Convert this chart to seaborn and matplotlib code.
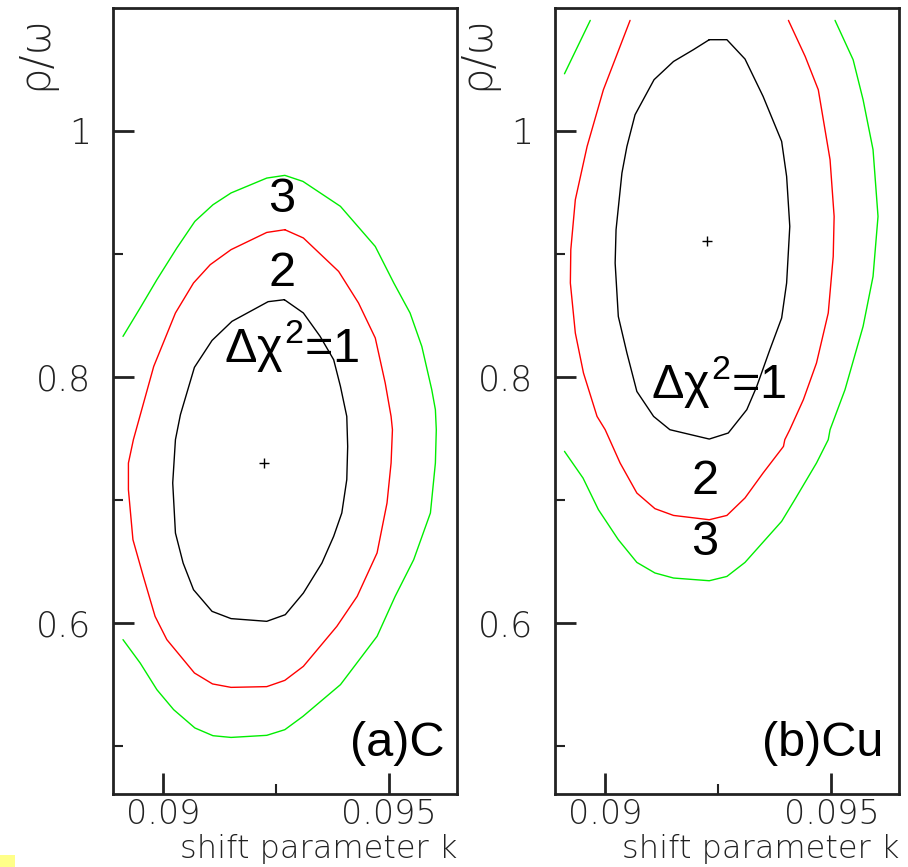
import matplotlib
matplotlib.use("Agg")
import matplotlib.pyplot as plt
import matplotlib.patches as mpatches
from matplotlib.ticker import FixedLocator
import seaborn as sns

# contour data: shift parameter k vs rho/omega

# (a) C
a_c1_k = [0.09268, 0.09232, 0.09152, 0.09108, 0.09069, 0.09038, 0.09027, 0.09021, 0.09027, 0.09044,
          0.09067, 0.09108, 0.09150, 0.09229, 0.09270, 0.09310, 0.09351, 0.09377, 0.09395, 0.09406,
          0.09408, 0.09406, 0.09392, 0.09377, 0.09347, 0.09310, 0.09268]
a_c1_r = [0.8626, 0.8610, 0.8450, 0.8295, 0.8076, 0.7691, 0.7488, 0.7136, 0.6729, 0.6485,
          0.6268, 0.6092, 0.6033, 0.6011, 0.6065, 0.6241, 0.6485, 0.6702, 0.6892, 0.7163,
          0.7433, 0.7677, 0.7921, 0.8138, 0.8328, 0.8518, 0.8626]
a_c2_k = [0.09269, 0.09229, 0.09150, 0.09104, 0.09067, 0.09027, 0.08979, 0.08934, 0.08923, 0.08923,
          0.08933, 0.08956, 0.08982, 0.09008, 0.09069, 0.09109, 0.09150, 0.09229, 0.09269, 0.09310,
          0.09384, 0.09429, 0.09473, 0.09495, 0.09504, 0.09507, 0.09504, 0.09491, 0.09469, 0.09432,
          0.09388, 0.09310, 0.09269]
a_c2_r = [0.9195, 0.9173, 0.9033, 0.8911, 0.8762, 0.8518, 0.8084, 0.7488, 0.7298, 0.7081,
          0.6675, 0.6376, 0.6051, 0.5862, 0.5591, 0.5502, 0.5474, 0.5480, 0.5531, 0.5645,
          0.5970, 0.6214, 0.6567, 0.6973, 0.7298, 0.7569, 0.7677, 0.7949, 0.8315, 0.8599,
          0.8856, 0.9128, 0.9195]
a_c3_k = [0.08911, 0.08949, 0.08986, 0.09030, 0.09070, 0.09110, 0.09150, 0.09229, 0.09269, 0.09309,
          0.09392, 0.09469, 0.09510, 0.09546, 0.09572, 0.09594, 0.09602, 0.09604, 0.09602, 0.09591,
          0.09554, 0.09513, 0.09473, 0.09392, 0.09309, 0.09269, 0.09229, 0.09150, 0.09110, 0.09070,
          0.09023, 0.08986, 0.08949, 0.08911]
a_c3_r = [0.8328, 0.8559, 0.8789, 0.9046, 0.9263, 0.9398, 0.9494, 0.9615, 0.9637, 0.9588,
          0.9385, 0.9059, 0.8762, 0.8518, 0.8246, 0.7894, 0.7732, 0.7569, 0.7298, 0.6892,
          0.6512, 0.6214, 0.5889, 0.5496, 0.5238, 0.5130, 0.5084, 0.5067, 0.5081, 0.5144,
          0.5293, 0.5455, 0.5672, 0.5862]
a_best = (0.09224, 0.7298)

# (b) Cu
b_c1_k = [0.09230, 0.09269, 0.09309, 0.09349, 0.09390, 0.09401, 0.09408, 0.09401, 0.09390, 0.09364,
          0.09335, 0.09313, 0.09272, 0.09230, 0.09143, 0.09107, 0.09070, 0.09048, 0.09029, 0.09022,
          0.09024, 0.09037, 0.09048, 0.09066, 0.09108, 0.09151, 0.09195, 0.09230]
b_c1_r = [1.0740, 1.0740, 1.0583, 1.0279, 0.9913, 0.9628, 0.9222, 0.8762, 0.8477, 0.8220,
          0.7921, 0.7732, 0.7542, 0.7493, 0.7569, 0.7677, 0.7880, 0.8193, 0.8490, 0.8924,
          0.9195, 0.9656, 0.9872, 1.0130, 1.0415, 1.0563, 1.0659, 1.0740]
b_c2_k = [0.09055, 0.08996, 0.08960, 0.08934, 0.08924, 0.08923, 0.08934, 0.08952, 0.08982, 0.09000,
          0.09033, 0.09070, 0.09110, 0.09151, 0.09230, 0.09269, 0.09309, 0.09349, 0.09394, 0.09397,
          0.09408, 0.09438, 0.09467, 0.09493, 0.09504, 0.09506, 0.09497, 0.09471, 0.09442, 0.09405]
b_c2_r = [1.0897, 1.0333, 0.9872, 0.9439, 0.9033, 0.8762, 0.8355, 0.8030, 0.7677, 0.7569,
          0.7298, 0.7054, 0.6927, 0.6872, 0.6837, 0.6872, 0.7014, 0.7217, 0.7433, 0.7488,
          0.7569, 0.7813, 0.8111, 0.8518, 0.8978, 0.9303, 0.9764, 1.0333, 1.0604, 1.0897]
b_c3a_k = [0.08967, 0.08910]
b_c3a_r = [1.0897, 1.0463]
b_c3_k = [0.08910, 0.08951, 0.08985, 0.09029, 0.09070, 0.09110, 0.09151, 0.09230, 0.09269, 0.09309,
          0.09390, 0.09419, 0.09467, 0.09493, 0.09497, 0.09530, 0.09570, 0.09592, 0.09603, 0.09592,
          0.09570, 0.09548, 0.09508]
b_c3_r = [0.7393, 0.7176, 0.6919, 0.6675, 0.6490, 0.6404, 0.6363, 0.6341, 0.6376, 0.6490,
          0.6824, 0.7000, 0.7298, 0.7488, 0.7569, 0.7894, 0.8409, 0.8815, 0.9303, 0.9846,
          1.0252, 1.0577, 1.0897]
b_best = (0.09225, 0.9100)

x_major = [0.09, 0.095]
x_major_labels = ["0.09", "0.095"]
x_minor = [0.0925]
y_major = [0.6, 0.8, 1.0]
y_major_labels = ["0.6", "0.8", "1"]
y_minor = [0.5, 0.7, 0.9]

sns.set_style("white")
plt.rcParams["font.family"] = ["DejaVu Sans"]
plt.rcParams["mathtext.fontset"] = "custom"
plt.rcParams["mathtext.rm"] = "Liberation Sans"
plt.rcParams["mathtext.it"] = "Liberation Sans"
plt.rcParams["mathtext.bf"] = "Liberation Sans:bold"

fig = plt.figure(figsize=(9.08, 8.67), dpi=100)
ax_a = fig.add_axes([0.1245, 0.0842, 0.3789, 0.9066])
ax_b = fig.add_axes([0.6112, 0.0842, 0.3792, 0.9066])

big = dict(family="Liberation Sans", fontsize=35, color="black")
thin = dict(family="DejaVu Sans", fontweight="light", color="#222222")


def contour(ax, k, r, color):
    sns.lineplot(x=k, y=r, sort=False, estimator=None, color=color, lw=1.0, ax=ax)


def style(ax):
    ax.set_xlim(0.08889, 0.0965)
    ax.set_ylim(0.4607, 1.0998)
    ax.xaxis.set_major_locator(FixedLocator(x_major))
    ax.xaxis.set_minor_locator(FixedLocator(x_minor))
    ax.yaxis.set_major_locator(FixedLocator(y_major))
    ax.yaxis.set_minor_locator(FixedLocator(y_minor))
    ax.set_xticklabels(x_major_labels, fontsize=24, **thin)
    ax.set_yticklabels(y_major_labels, fontsize=25, **thin)
    ax.tick_params(which="major", direction="in", length=15, width=2, color="#222222",
                   top=False, right=False, bottom=True, left=True)
    ax.tick_params(which="minor", direction="in", length=7, width=1.5, color="#222222",
                   top=False, right=False, bottom=True, left=True)
    ax.tick_params(axis="y", pad=16)
    ax.tick_params(axis="x", pad=3)
    for s in ax.spines.values():
        s.set_visible(True)
        s.set_linewidth(2)
        s.set_color("#222222")
    ax.set_xlabel("")
    ax.set_ylabel("")
    ax.text(1.0, -0.081, "shift parameter k", transform=ax.transAxes, ha="right", va="baseline",
            fontsize=23, **thin)
    ax.text(-0.227, 0.991, "ρ/ω", transform=ax.transAxes, rotation=90, ha="center", va="top",
            fontsize=30, **thin)


# panel (a)
contour(ax_a, a_c1_k, a_c1_r, "black")
contour(ax_a, a_c2_k, a_c2_r, "red")
contour(ax_a, a_c3_k, a_c3_r, "#00ee00")
sns.scatterplot(x=[a_best[0]], y=[a_best[1]], marker="+", color="black", s=60, linewidth=1, ax=ax_a)
ax_a.text(0.09263, 0.9439, "3", ha="center", va="center", **big)
ax_a.text(0.09263, 0.8843, "2", ha="center", va="center", **big)
ax_a.text(0.09285, 0.8246, r"$\Delta\chi^2$=1", ha="center", va="center", **big)
ax_a.text(0.963, 0.035, "(a)C", transform=ax_a.transAxes, ha="right", va="bottom", **big)
style(ax_a)

# panel (b)
contour(ax_b, b_c1_k, b_c1_r, "black")
contour(ax_b, b_c2_k, b_c2_r, "red")
contour(ax_b, b_c3a_k, b_c3a_r, "#00ee00")
contour(ax_b, b_c3_k, b_c3_r, "#00ee00")
sns.scatterplot(x=[b_best[0]], y=[b_best[1]], marker="+", color="black", s=60, linewidth=1, ax=ax_b)
ax_b.text(0.0925, 0.796, r"$\Delta\chi^2$=1", ha="center", va="center", **big)
ax_b.text(0.0922, 0.7149, "2", ha="center", va="center", **big)
ax_b.text(0.0922, 0.6648, "3", ha="center", va="center", **big)
ax_b.text(0.955, 0.035, "(b)Cu", transform=ax_b.transAxes, ha="right", va="bottom", **big)
style(ax_b)

fig.patches.append(mpatches.Rectangle((0, 0), 15 / 908, 12 / 867, transform=fig.transFigure,
                                      facecolor="#ffff88", edgecolor="none"))

fig.savefig("out.png", dpi=100)
